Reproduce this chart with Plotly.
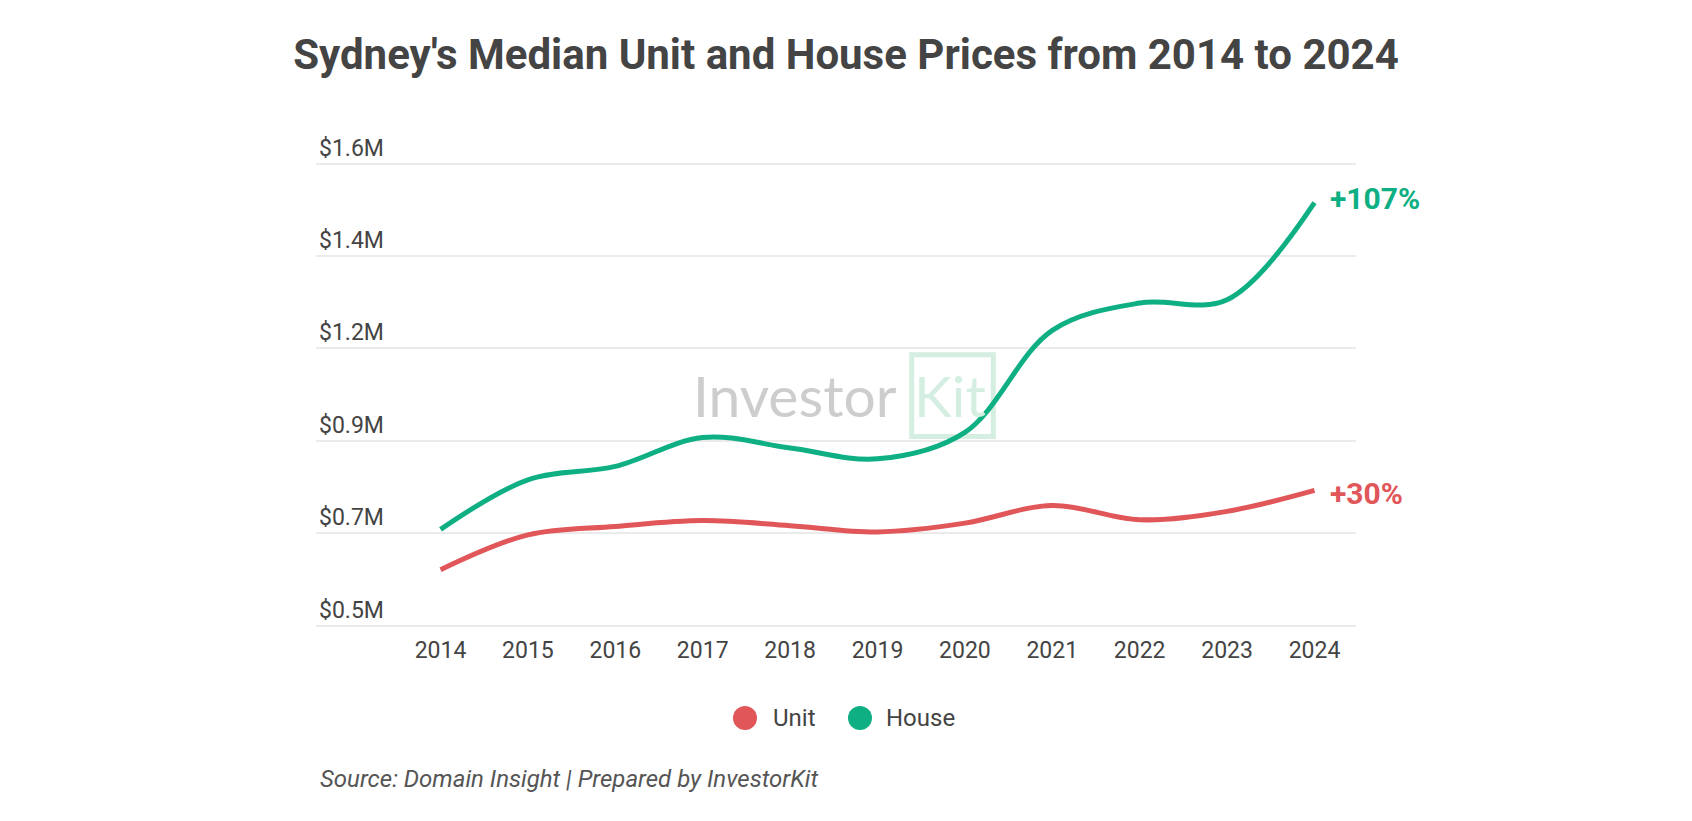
import plotly.graph_objects as go

years = [2014, 2015, 2016, 2017, 2018, 2019, 2020, 2021, 2022, 2023, 2024]
unit_price = [0.633, 0.716, 0.736, 0.750, 0.738, 0.723, 0.744, 0.786, 0.752, 0.772, 0.822]
house_price = [0.729, 0.847, 0.879, 0.948, 0.923, 0.897, 0.960, 1.203, 1.268, 1.276, 1.507]
ytick_vals = [0.5, 0.72, 0.94, 1.16, 1.38, 1.6]
ytick_text = ["$0.5M", "$0.7M", "$0.9M", "$1.2M", "$1.4M", "$1.6M"]
series_names = ["Unit", "House"]
series_colors = ["#E05659", "#0FAF84"]
end_labels = ["+30%", "+107%"]

OFF = 8  # page body margin
W, H = 1692 - OFF, 821 - OFF
PLOT_L, PLOT_R = 316 - OFF, 1356 - OFF
Y_TOP_PX = 164 - OFF - 0.08 * 419.6
Y_BOT_PX = 625.7 - OFF + 0.02 * 419.6
L, R = PLOT_L, W - PLOT_R
T, B = Y_TOP_PX, H - Y_BOT_PX
PW, PH = W - L - R, H - T - B


def px_x(p):
    return (p - OFF - L) / PW


def px_y(p):
    return 1 - (p - OFF - T) / PH


fig = go.Figure()
for name, vals, col, lab, ys in zip(series_names, [unit_price, house_price], series_colors, end_labels, [-3, 4]):
    fig.add_trace(go.Scatter(
        x=years, y=vals, mode="lines", name=name,
        line=dict(color=col, width=5, shape="spline", smoothing=1.0),
        showlegend=False, hoverinfo="skip"))
    fig.add_annotation(x=years[-1], y=vals[-1], text="<b>" + lab + "</b>",
                       showarrow=False, xanchor="left", yanchor="middle",
                       xshift=14, yshift=ys,
                       font=dict(family="Roboto", size=30, color=col))

# watermark
fig.add_shape(type="rect", x0=2019.391, x1=2020.325, y0=0.950, y1=1.145,
              line=dict(color="#d5eee2", width=5), layer="below")
fig.add_annotation(x=2018.06, y=1.05, text="Investor", showarrow=False,
                   xanchor="center", yanchor="middle",
                   font=dict(family="Lato", size=57, color="#cdcdcd"))
fig.add_annotation(x=2019.40, y=1.05, text="Kit", showarrow=False,
                   xanchor="left", yanchor="middle",
                   font=dict(family="Lato", size=57, color="#d5eee2"))

# manual legend
legend_y = px_y(718)
for cx, tx, name, col in [(745, 771, "Unit", series_colors[0]), (860, 884, "House", series_colors[1])]:
    fig.add_shape(type="circle", xref="paper", yref="paper", xsizemode="pixel", ysizemode="pixel",
                  xanchor=px_x(cx), yanchor=legend_y, x0=-12, x1=12, y0=-12, y1=12,
                  fillcolor=col, line=dict(width=0))
    fig.add_annotation(xref="paper", yref="paper", x=px_x(tx), y=legend_y,
                       text=name, showarrow=False, xanchor="left", yanchor="middle",
                       font=dict(family="Roboto", size=24, color="#444444"))

fig.add_annotation(xref="paper", yref="paper", x=px_x(318), y=px_y(779),
                   text="<i>Source: Domain Insight | Prepared by InvestorKit</i>", showarrow=False,
                   xanchor="left", yanchor="middle",
                   font=dict(family="Roboto", size=24, color="#555555"))

fig.update_layout(
    width=W, height=H,
    margin=dict(l=L, r=R, t=T, b=B, autoexpand=False),
    paper_bgcolor="white", plot_bgcolor="white",
    title=dict(text="<b>Sydney's Median Unit and House Prices from 2014 to 2024</b>",
               x=(846 - OFF) / W, xanchor="center", xref="container",
               y=1 - (54 - OFF) / H, yanchor="middle", yref="container",
               font=dict(family="Roboto", size=42, color="#444444")),
    showlegend=False,
    xaxis=dict(range=[2012.575, 2024.475], tickvals=years, ticktext=[str(y) for y in years],
               showgrid=False, zeroline=False, showline=False, ticks="",
               tickfont=dict(family="Roboto", size=23, color="#444444"), fixedrange=True),
    yaxis=dict(range=[0.48, 1.68], tickvals=ytick_vals, ticktext=ytick_text,
               ticklabelposition="inside top", showgrid=True, gridcolor="#ebebeb", gridwidth=2,
               zeroline=False, showline=False, ticks="",
               tickfont=dict(family="Roboto", size=23, color="#444444"), fixedrange=True),
)

fig.write_html("out.html")
